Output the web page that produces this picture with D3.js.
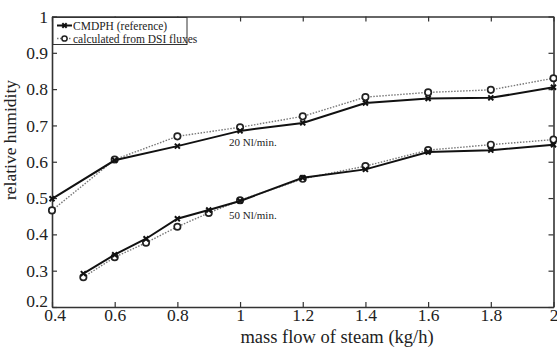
<!DOCTYPE html>
<html><head><meta charset="utf-8">
<script src="https://cdn.jsdelivr.net/npm/d3@7"></script>
<style>body{margin:0;background:#fff}svg{display:block}</style>
</head><body><svg id="c" width="557" height="351" font-family="Liberation Serif, Times New Roman, serif"></svg>
<script>
const xTicks = [0.4,0.6,0.8,1,1.2,1.4,1.6,1.8,2];
const yTicks = [0.2,0.3,0.4,0.5,0.6,0.7,0.8,0.9,1];
const x20 = [0.4,0.6,0.8,1.0,1.2,1.4,1.6,1.8,2.0];
const ref20 = [0.498,0.604,0.643,0.685,0.707,0.762,0.774,0.776,0.805];
const calc20 = [0.466,0.606,0.670,0.695,0.725,0.778,0.791,0.798,0.830];
const x50 = [0.5,0.6,0.7,0.8,0.9,1.0,1.2,1.4,1.6,1.8,2.0];
const ref50 = [0.292,0.344,0.388,0.443,0.467,0.492,0.556,0.579,0.627,0.632,0.647];
const calc50 = [0.282,0.337,0.377,0.421,0.459,0.494,0.553,0.588,0.632,0.647,0.661];
const legendLabels = ["CMDPH (reference)","calculated from DSI fluxes"];
const seriesLabels = ["20 Nl/min.","50 Nl/min."];

const FF = "Liberation Serif";
const svg = d3.select("#c");
const L=52,R=553.5,T=16.5,B=307;
const x = d3.scaleLinear().domain([0.4,2]).range([L,R]);
const y = d3.scaleLinear().domain([0.2,1]).range([B,T]);
const ax="#333";
const fmt = d => String(d);

const gB = svg.append("g").attr("transform",`translate(0,${B})`).call(d3.axisBottom(x).tickValues(xTicks).tickFormat(fmt).tickSizeInner(-5).tickSizeOuter(0).tickPadding(1.5));
const gL = svg.append("g").attr("transform",`translate(${L},0)`).call(d3.axisLeft(y).tickValues(yTicks).tickFormat(fmt).tickSizeInner(-5).tickSizeOuter(0).tickPadding(4));
const gT = svg.append("g").attr("transform",`translate(0,${T})`).call(d3.axisTop(x).tickValues(xTicks).tickFormat("").tickSizeInner(-5).tickSizeOuter(0));
const gR = svg.append("g").attr("transform",`translate(${R},0)`).call(d3.axisRight(y).tickValues(yTicks).tickFormat("").tickSizeInner(-5).tickSizeOuter(0));
[gB,gL,gT,gR].forEach(g=>{g.attr("font-family",FF).attr("font-size",17.5);g.selectAll("path").attr("stroke",ax).attr("stroke-width",1.6);g.selectAll("line").attr("stroke",ax).attr("stroke-width",1.2);g.selectAll("text").attr("fill","#222");});
// lowest y label sits a little above its tick, first x label a little right, as in the reference
gL.selectAll(".tick").filter(d=>d===0.2).select("text").attr("dy","-0.05em");
gB.selectAll(".tick").filter(d=>d===0.4).select("text").attr("dx","0.15em");

svg.append("text").attr("x",337).attr("y",343).attr("text-anchor","middle").attr("font-family",FF).attr("font-size",18.5).attr("fill","#222").text("mass flow of steam (kg/h)");
svg.append("text").attr("transform",`translate(16,140) rotate(-90)`).attr("text-anchor","middle").attr("font-family",FF).attr("font-size",17.5).attr("fill","#222").text("relative humidity");

const line = d3.line().x(d=>x(d[0])).y(d=>y(d[1]));
function drawRef(xs,vs){
  const pts = xs.map((v,i)=>[v,vs[i]]);
  svg.append("path").datum(pts).attr("d",line).attr("fill","none").attr("stroke","#111").attr("stroke-width",2);
  svg.append("g").selectAll("path").data(pts).join("path")
    .attr("transform",d=>`translate(${x(d[0])},${y(d[1])})`)
    .attr("d",d3.symbol(d3.symbolX,18)).attr("stroke","#111").attr("stroke-width",2).attr("fill","none");
}
function drawCalc(xs,vs){
  const pts = xs.map((v,i)=>[v,vs[i]]);
  svg.append("path").datum(pts).attr("d",line).attr("fill","none").attr("stroke","#777").attr("stroke-width",1.4).attr("stroke-dasharray","1.5,1.5");
  svg.append("g").selectAll("circle").data(pts).join("circle")
    .attr("cx",d=>x(d[0])).attr("cy",d=>y(d[1])).attr("r",3.2).attr("fill","#fff").attr("stroke","#222").attr("stroke-width",1.7);
}
drawCalc(x20,calc20); drawRef(x20,ref20);
drawCalc(x50,calc50); drawRef(x50,ref50);

svg.append("text").attr("x",229).attr("y",146).attr("font-family",FF).attr("font-size",11).attr("fill","#222").text(seriesLabels[0]);
svg.append("text").attr("x",229).attr("y",219).attr("font-family",FF).attr("font-size",11).attr("fill","#222").text(seriesLabels[1]);

const lg = svg.append("g").attr("font-family",FF).attr("font-size",11.5);
lg.append("rect").attr("x",53).attr("y",17.5).attr("width",134).attr("height",27).attr("fill","#fff").attr("stroke","#333").attr("stroke-width",1);
lg.append("line").attr("x1",57).attr("x2",72).attr("y1",25.5).attr("y2",25.5).attr("stroke","#111").attr("stroke-width",2);
lg.append("path").attr("transform","translate(64.5,25.5)").attr("d",d3.symbol(d3.symbolX,14)).attr("stroke","#111").attr("stroke-width",2);
lg.append("line").attr("x1",57).attr("x2",72).attr("y1",38.5).attr("y2",38.5).attr("stroke","#777").attr("stroke-width",1.4).attr("stroke-dasharray","1.5,1.5");
lg.append("circle").attr("cx",64.5).attr("cy",38.5).attr("r",2.6).attr("fill","#fff").attr("stroke","#222").attr("stroke-width",1.5);
lg.append("text").attr("x",73).attr("y",29.5).attr("fill","#222").text(legendLabels[0]);
lg.append("text").attr("x",73).attr("y",42.5).attr("fill","#222").text(legendLabels[1]);
</script></body></html>
